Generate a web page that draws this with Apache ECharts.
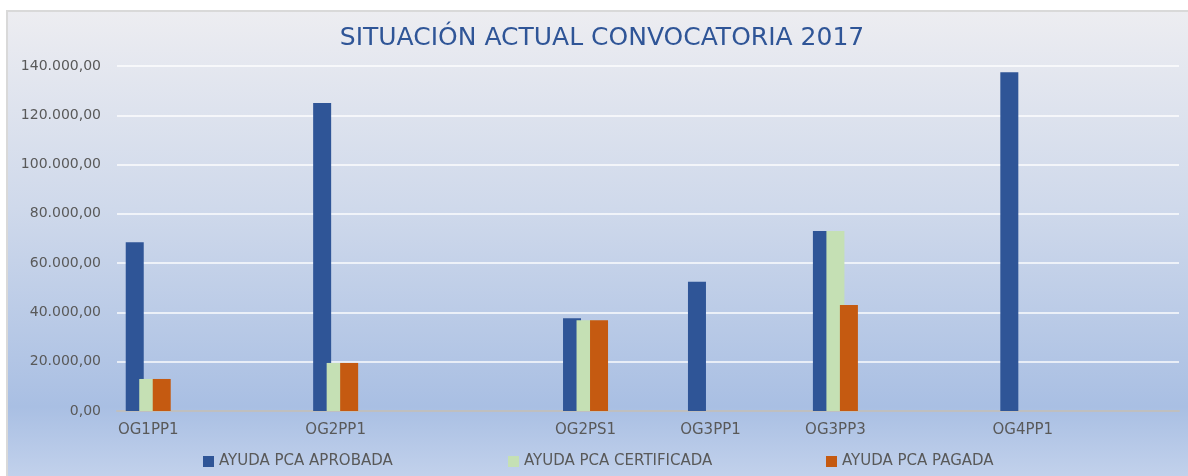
<!DOCTYPE html>
<html>
<head>
<meta charset="utf-8">
<script src="https://cdn.jsdelivr.net/npm/echarts@6/dist/echarts.min.js"></script>
<style>
  html, body { margin: 0; padding: 0; background: #fff; }
  #chart { width: 1188px; height: 476px; }
</style>
</head>
<body>
<div id="chart"></div>
<script>
// datos (filas vacías de la hoja = categorías sin nombre)
var categorias = ['OG1PP1', '', '', 'OG2PP1', '', '', '', 'OG2PS1', '', 'OG3PP1', '', 'OG3PP3', '', '', 'OG4PP1', '', ''];
var aprobada    = [68500, null, null, 125000, null, null, null, 37600, null, 52500, null, 73000, null, null, 137500, null, null];
var certificada = [13000, null, null, 19500, null, null, null, 36800, null, 0, null, 73000, null, null, 0, null, null];
var pagada      = [13000, null, null, 19500, null, null, null, 36800, null, 0, null, 43000, null, null, 0, null, null];
var nombres = ['AYUDA PCA APROBADA', 'AYUDA PCA CERTIFICADA', 'AYUDA PCA PAGADA'];

var fuente = 'DejaVu Sans';
var gris = '#595959';

function formato(v) {
    var s = Math.round(v).toString().replace(/\B(?=(\d{3})+(?!\d))/g, '.');
    return s + ',00';
}

var chart = echarts.init(document.getElementById('chart'));

var option = {
    backgroundColor: '#ffffff',
    graphic: [{
        type: 'rect',
        z: -10,
        silent: true,
        shape: { x: 7, y: 11, width: 1230, height: 520 },
        style: {
            fill: new echarts.graphic.LinearGradient(0, 0, 0, 1, [
                { offset: 0, color: '#ededf1' },
                { offset: 0.38, color: '#cfd9eb' },
                { offset: 0.76, color: '#a9bfe3' },
                { offset: 0.9, color: '#c3d2ec' },
                { offset: 1, color: '#c8d6ee' }
            ]),
            stroke: '#d9d9d9',
            lineWidth: 2
        }
    }],
    title: {
        text: 'SITUACIÓN ACTUAL CONVOCATORIA 2017',
        left: 597,
        textAlign: 'center',
        top: 21,
        textStyle: { color: '#2f5597', fontFamily: fuente, fontSize: 25, fontWeight: 'normal' }
    },
    legend: [
        { data: [nombres[0]], left: 203, top: 454 },
        { data: [nombres[1]], left: 508, top: 454 },
        { data: [nombres[2]], left: 826, top: 454 }
    ].map(function (l) {
        l.padding = 0;
        l.itemWidth = 11;
        l.itemHeight = 11;
        l.itemGap = 5;
        l.icon = 'rect';
        l.textStyle = { color: gris, fontFamily: fuente, fontSize: 15 };
        return l;
    }),
    grid: { left: 117, right: 9, top: 66, bottom: 65, containLabel: false },
    xAxis: {
        type: 'category',
        data: categorias,
        boundaryGap: true,
        axisTick: { show: false },
        axisLine: { lineStyle: { color: '#bfbfbf', width: 2 } },
        axisLabel: { interval: 0, color: gris, fontFamily: fuente, fontSize: 15, margin: 12 }
    },
    yAxis: {
        type: 'value',
        min: 0,
        max: 140000,
        interval: 20000,
        axisLine: { show: false },
        axisTick: { show: false },
        splitLine: { lineStyle: { color: 'rgba(255,255,255,0.7)', width: 2 } },
        axisLabel: { color: gris, fontFamily: fuente, fontSize: 14, margin: 16, formatter: formato }
    },
    series: [
        { name: nombres[0], type: 'bar', data: aprobada, itemStyle: { color: '#2f5597' } },
        { name: nombres[1], type: 'bar', data: certificada, itemStyle: { color: '#c5e0b4' } },
        { name: nombres[2], type: 'bar', data: pagada, itemStyle: { color: '#c55a11' } }
    ].map(function (s) {
        s.barWidth = 18;
        s.barGap = '-25%';
        return s;
    })
};

chart.setOption(option);
</script>
</body>
</html>
